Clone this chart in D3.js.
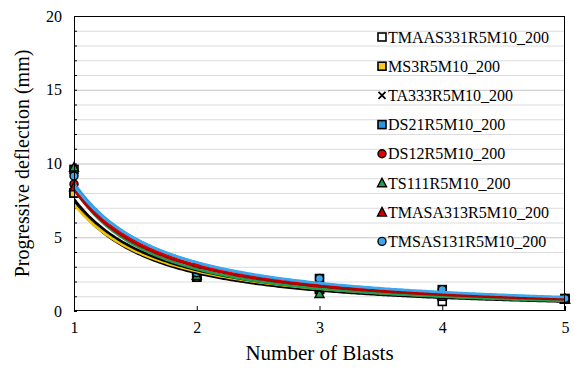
<!DOCTYPE html>
<html><head><meta charset="utf-8">
<script src="https://cdn.jsdelivr.net/npm/d3@7"></script>
</head><body style="margin:0">
<svg id="chart" width="574" height="377" font-family="'Liberation Serif', 'Times New Roman', monospace"></svg>
<script>
const blasts = [1, 2, 3, 4, 5];
const seriesNames = ["TMAAS331R5M10_200","MS3R5M10_200","TA333R5M10_200","DS21R5M10_200","DS12R5M10_200","TS111R5M10_200","TMASA313R5M10_200","TMSAS131R5M10_200"];
const tmaas331 = [8.0, 2.3, 1.5, 0.65, 0.85];
const ms3      = [8.0, 2.3, 1.45, 1.0, 0.8];
const ta333    = [8.5, 2.3, 1.5, 1.05, 0.8];
const ds21     = [9.6, 2.4, 2.2, 1.45, 0.8];
const ds12     = [8.6, 3.0, 1.75, 1.15, 0.8];
const ts111    = [9.75, 2.4, 1.17, 1.1, 0.8];
const tmasa313 = [8.4, 2.9, 1.7, 1.1, 0.8];
const tmsas131 = [9.15, 2.6, 2.2, 1.45, 0.85];
const yTicks = [0, 5, 10, 15, 20];
const xTicks = [1, 2, 3, 4, 5];

const FONT = "'Liberation Serif', 'Times New Roman', monospace";
const seriesValues = [tmaas331, ms3, ta333, ds21, ds12, ts111, tmasa313, tmsas131];
const styles = [
  {marker:"square", fill:"#fff", line:"#000"},
  {marker:"square", fill:"#f7c928", line:"#f2c500"},
  {marker:"cross", fill:"#000", line:"#000"},
  {marker:"square", fill:"#2f95dc", line:"#2f95dc"},
  {marker:"circle", fill:"#e00000", line:"#e00000"},
  {marker:"triangle", fill:"#1fa050", line:"#1fa050"},
  {marker:"triangle", fill:"#d00000", line:"#b00000"},
  {marker:"circle", fill:"#3aa7ee", line:"#3aa7ee"}
];

const W = 574, H = 377;
const m = {left:74, right:9, top:16, bottom:66};
const svg = d3.select("#chart");
svg.append("rect").attr("width", W).attr("height", H).attr("fill", "#fff");
const x = d3.scaleLinear().domain([1,5]).range([m.left, W - m.right]);
const y = d3.scaleLinear().domain([0,20]).range([H - m.bottom, m.top]);

// gridlines
svg.append("g").selectAll("line").data(d3.range(1,20)).join("line")
  .attr("x1", x(1)).attr("x2", x(5))
  .attr("y1", d=>y(d)+0.5).attr("y2", d=>y(d)+0.5)
  .attr("stroke", d=> d%5===0 ? "#c4c4c4" : "#dcdcdc").attr("stroke-width", 1);

// y axis
const yAxis = svg.append("g").attr("transform", `translate(${x(1)},0)`)
  .call(d3.axisLeft(y).tickValues(d3.range(0,21)).tickSize(-3).tickFormat(d => yTicks.includes(d) ? d : ""));
yAxis.attr("font-family", FONT).attr("font-size", 16);
yAxis.select(".domain").remove();
yAxis.selectAll(".tick line").attr("stroke","#000");
yAxis.selectAll(".tick text").attr("x", -12).style("font-family", FONT);

// x axis
const xAxis = svg.append("g").attr("transform", `translate(0,${y(0)})`)
  .call(d3.axisBottom(x).tickValues(xTicks).tickSize(-5).tickPadding(11).tickFormat(d3.format("d")));
xAxis.attr("font-family", FONT).attr("font-size", 16);
xAxis.select(".domain").remove();
xAxis.selectAll(".tick line").attr("stroke","#000");
xAxis.selectAll(".tick text").style("font-family", FONT);

// power trendlines (least squares in log-log space)
function powerFit(xs, ys){
  const lx = xs.map(Math.log), ly = ys.map(Math.log);
  const mx = d3.mean(lx), my = d3.mean(ly);
  const b = d3.sum(lx.map((v,i)=>(v-mx)*(ly[i]-my))) / d3.sum(lx.map(v=>(v-mx)*(v-mx)));
  const a = Math.exp(my - b*mx);
  return t => a*Math.pow(t,b);
}

// markers
function drawMarker(g, type, fill, cx, cy, s){
  if(type==="square"){
    g.append("rect").attr("x",cx-s/2).attr("y",cy-s/2).attr("width",s).attr("height",s)
      .attr("fill",fill).attr("stroke","#000").attr("stroke-width",1.6);
  } else if(type==="circle"){
    g.append("circle").attr("cx",cx).attr("cy",cy).attr("r",s/2)
      .attr("fill",fill).attr("stroke","#000").attr("stroke-width",1.4);
  } else if(type==="triangle"){
    const h = s*0.95;
    g.append("path").attr("d",`M${cx},${cy-h/2-1}L${cx+s/2+0.5},${cy+h/2}L${cx-s/2-0.5},${cy+h/2}Z`)
      .attr("fill",fill).attr("stroke","#000").attr("stroke-width",1.4);
  } else if(type==="cross"){
    const r = s/2-0.5;
    g.append("path").attr("d",`M${cx-r},${cy-r}L${cx+r},${cy+r}M${cx-r},${cy+r}L${cx+r},${cy-r}`)
      .attr("stroke","#000").attr("stroke-width",1.8);
  }
}
const markG = svg.append("g");
seriesValues.forEach((vals,i)=>{
  vals.forEach((v,j)=> drawMarker(markG, styles[i].marker, styles[i].fill, x(blasts[j]), y(v), 8));
});

const line = d3.line().x(d=>x(d[0])).y(d=>y(d[1]));
svg.append("clipPath").attr("id","pc").append("rect")
  .attr("x", x(1)).attr("y", y(20)).attr("width", x(5)-x(1)).attr("height", y(0)-y(20));
const trendG = svg.append("g").attr("clip-path","url(#pc)");
seriesValues.forEach((vals,i)=>{
  const f = powerFit(blasts, vals);
  const pts = d3.range(1, 5.001, 0.02).map(t=>[t, f(t)]);
  trendG.append("path").datum(pts).attr("d", line).attr("fill","none")
    .attr("stroke", styles[i].line).attr("stroke-width", 2.6);
});

// frame
svg.append("rect").attr("x", x(1)+0.5).attr("y", y(20)+0.5)
  .attr("width", x(5)-x(1)-1).attr("height", y(0)-y(20)-1)
  .attr("fill","none").attr("stroke","#000").attr("stroke-width",1);

// legend
const leg = svg.append("g");
seriesNames.forEach((n,i)=>{
  const cy = 37 + i*29.2;
  drawMarker(leg, styles[i].marker, styles[i].fill, 382, cy, 8);
  leg.append("text").attr("x", 388).attr("y", cy).attr("dy","0.35em")
    .style("font-size","16px").style("font-family", FONT).text(n);
});

// axis titles
svg.append("text").attr("x", (x(1)+x(5))/2).attr("y", 360).attr("text-anchor","middle")
  .style("font-size","21px").style("font-family", FONT).text("Number of Blasts");
svg.append("text").attr("transform", `translate(29,${(y(0)+y(20))/2}) rotate(-90)`)
  .attr("text-anchor","middle").style("font-size","20px").style("font-family", FONT).text("Progressive deflection (mm)");
</script></body></html>
